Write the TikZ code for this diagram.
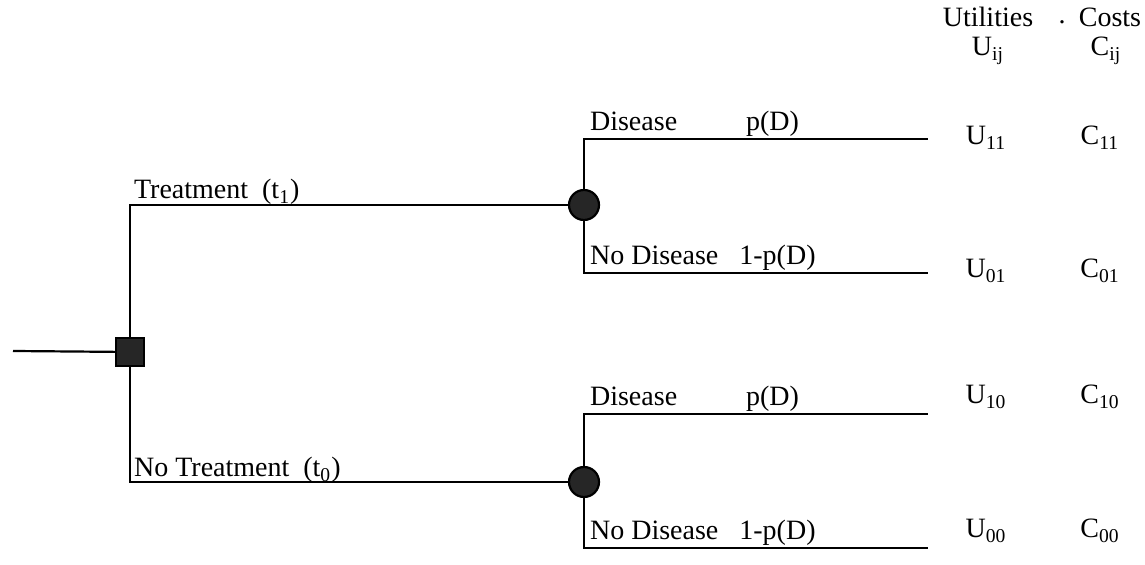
\documentclass[tikz,border=0pt]{standalone}
\usepackage{fontspec}
\setmainfont{Liberation Serif}
\usetikzlibrary{positioning}

\begin{document}
\begin{tikzpicture}[x=0.5pt,y=-0.5pt,line width=1.1pt,
  every node/.style={font=\fontsize{14}{16}\selectfont},
  decnode/.style={draw=black,fill=black!85,minimum size=14pt,inner sep=0pt},
  chancenode/.style={circle,draw=black,fill=black!85,minimum size=15pt,inner sep=0pt},
  lbl/.style={anchor=base west,inner sep=0pt},
  val/.style={anchor=base,inner sep=0pt}]
\useasboundingbox (0,0) rectangle (1145,565);

% decision and chance nodes
\coordinate (start) at (13,351);
\node[decnode] (dec) at (130,352) {};
\node[chancenode] (chT) at (584,205) {};
\node[chancenode] (chN) at (584,482) {};

% end points of the outcome branches
\coordinate (eTD) at (928,139);
\coordinate (eTN) at (928,273);
\coordinate (eND) at (928,414);
\coordinate (eNN) at (928,548);

\draw (start) -- (dec);
\draw (dec) |- (chT);
\draw (dec) |- (chN);
\draw (chT) |- (eTD);
\draw (chT) |- (eTN);
\draw (chN) |- (eND);
\draw (chN) |- (eNN);

% branch labels
\node[lbl] (lT) at (133,199) {Treatment\ \ (t\textsubscript{1})};
\node[lbl] (lN) at (133,477) {No Treatment\ \ (t\textsubscript{0})};
\node[lbl] (lTD) at (589,131) {Disease};
\node[lbl] (pTD) at (745,131) {p(D)};
\node[lbl] (lTN) at (589,265) {No Disease\ \ \ 1-p(D)};
\node[lbl] (lND) at (589,406) {Disease};
\node[lbl] (pND) at (745,406) {p(D)};
\node[lbl] (lNN) at (589,540) {No Disease\ \ \ 1-p(D)};

% utilities and costs
\node[val] (hU) at (988,27) {Utilities};
\node[val] (hdot) at (1062,24) {.};
\node[val] (hC) at (1110,27) {Costs};
\node[val] (hUij) at (988,56) {U\textsubscript{ij}};
\node[val] (hCij) at (1106,56) {C\textsubscript{ij}};
\node[val] (u11) at (986,145) {U\textsubscript{11}};
\node[val] (c11) at (1100,145) {C\textsubscript{11}};
\node[val] (u01) at (986,278) {U\textsubscript{01}};
\node[val] (c01) at (1100,278) {C\textsubscript{01}};
\node[val] (u10) at (986,404) {U\textsubscript{10}};
\node[val] (c10) at (1100,404) {C\textsubscript{10}};
\node[val] (u00) at (986,538) {U\textsubscript{00}};
\node[val] (c00) at (1100,538) {C\textsubscript{00}};
\end{tikzpicture}
\end{document}
